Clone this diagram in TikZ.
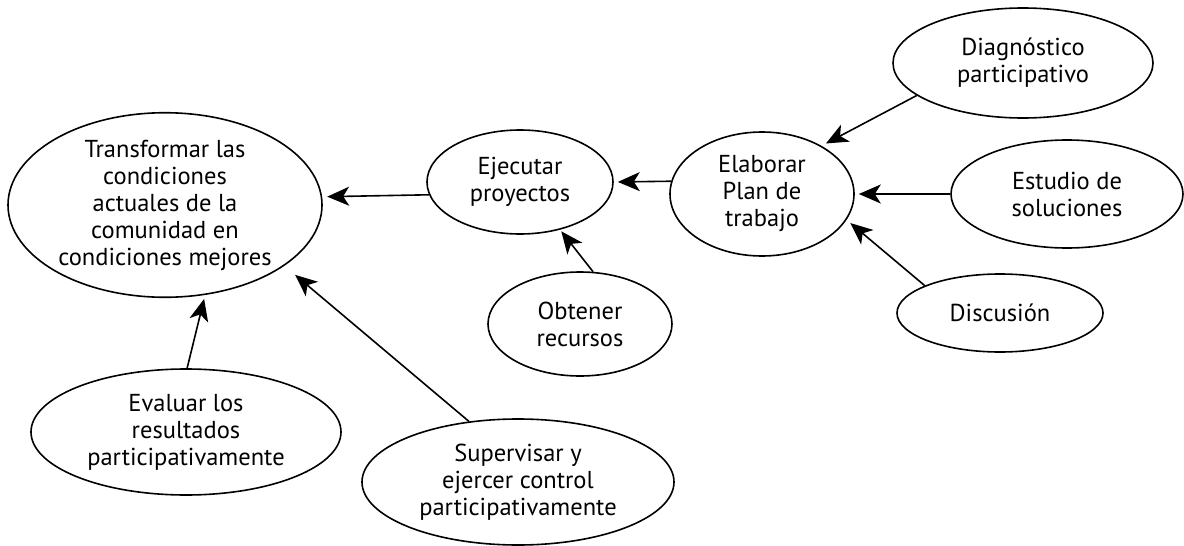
\documentclass[tikz,border=0pt]{standalone}
\usepackage{fontspec}
\setmainfont{PT Sans}
\usetikzlibrary{shapes.geometric,arrows.meta}
\tikzset{
  bub/.style={ellipse,draw,line width=1.6pt,inner sep=0pt,align=center,
    font=\fontsize{24.5}{27}\selectfont},
  arr/.style={line width=1.6pt,-{Stealth[length=22pt,width=19pt,inset=6pt]}}
}
\begin{document}
\begin{tikzpicture}[x=1pt,y=-1pt]
\useasboundingbox (0,0) rectangle (1184,546);
\node[bub,minimum width=314pt,minimum height=184pt] (trans) at (165,205)
  {Transformar las\\condiciones\\actuales de la\\comunidad en\\condiciones mejores};
\node[bub,minimum width=186pt,minimum height=104pt] (ejec) at (520,182)
  {Ejecutar\\proyectos};
\node[bub,minimum width=184pt,minimum height=124pt] (elab) at (762,194)
  {Elaborar\\Plan de\\trabajo};
\node[bub,minimum width=260pt,minimum height=110pt] (diag) at (1023,63)
  {Diagnóstico\\participativo};
\node[bub,minimum width=232pt,minimum height=108pt] (estu) at (1067,194)
  {Estudio de\\soluciones};
\node[bub,minimum width=206pt,minimum height=78pt] (disc) at (1000,313)
  {Discusión};
\node[bub,minimum width=184pt,minimum height=104pt] (obt) at (580,324)
  {Obtener\\recursos};
\node[bub,minimum width=310pt,minimum height=126pt] (eval) at (186,432)
  {Evaluar los\\resultados\\participativamente};
\node[bub,minimum width=312pt,minimum height=126pt] (sup) at (518,482)
  {Supervisar y\\ejercer control\\participativamente};

\draw[arr,shorten >=5pt] (ejec.188.2) -- (trans.3.7);
\draw[arr,shorten >=4pt] (elab.172.4) -- (ejec.0);
\draw[arr,shorten >=5pt] (diag.197.8) -- (elab.39);
\draw[arr,shorten >=4pt] (estu.180) -- (elab.0);
\draw[arr,shorten >=5pt] (disc.160) -- (elab.-17.6);
\draw[arr,shorten >=2pt] (obt.76.8) -- (ejec.-50.2);
\draw[arr,shorten >=4pt] (eval.89) -- (trans.-66.7);
\draw[arr,shorten >=14pt] (sup.129.3) -- (trans.-27.5);
\end{tikzpicture}
\end{document}
